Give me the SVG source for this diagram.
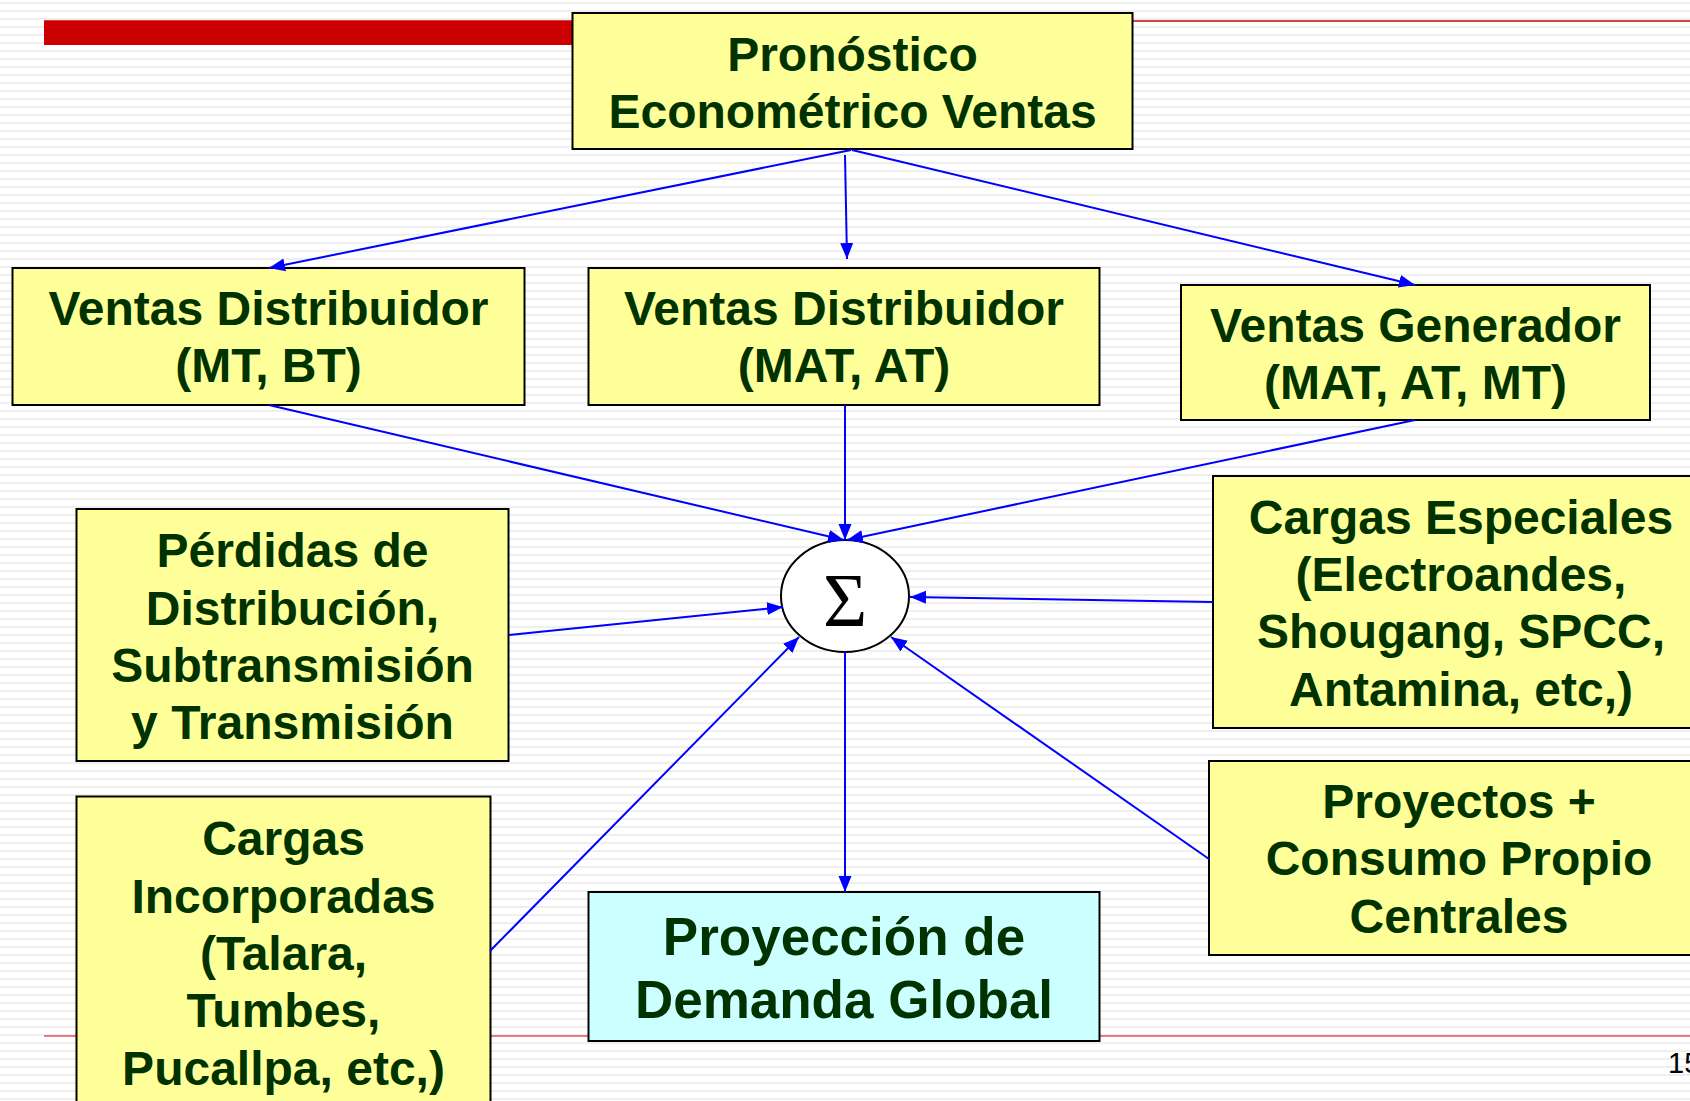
<svg xmlns="http://www.w3.org/2000/svg" width="1690" height="1101" viewBox="0 0 1690 1101">
<defs>
<pattern id="stripes" x="0" y="2" width="8" height="8" patternUnits="userSpaceOnUse">
<rect width="8" height="8" fill="#ffffff"/>
<rect y="0" width="8" height="2" fill="#efefef"/>
</pattern>
<marker id="ah" markerUnits="userSpaceOnUse" markerWidth="16" markerHeight="14" refX="16" refY="7" orient="auto">
<path d="M0,0.5 L16,7 L0,13.5 z" fill="#0000ff"/>
</marker>
<style>
.box{fill:#ffff99;stroke:#000;stroke-width:2}
.cyan{fill:#ccffff;stroke:#000;stroke-width:2}
.t{font-family:"Liberation Sans",Arial,sans-serif;font-weight:bold;font-size:48px;fill:#003300;text-anchor:middle}
.tb{font-size:53px}
.c{stroke:#0000ff;stroke-width:2;fill:none;marker-end:url(#ah)}
</style>
</defs>
<rect width="1690" height="1101" fill="url(#stripes)"/>
<g id="decor">
<line x1="44" y1="21" x2="1690" y2="21" stroke="#cc0000" stroke-width="1.5"/>
<rect x="44" y="21" width="530" height="24" fill="#cc0000"/>
<line x1="44" y1="1036" x2="1690" y2="1036" stroke="#dd0000" stroke-width="1.2"/>
<text x="1668" y="1073" font-family="Liberation Sans,Arial,sans-serif" font-size="29" fill="#000">15</text>
</g>
<g id="n-pronostico">
<rect class="box" x="572.5" y="13" width="560" height="136"/>
<text class="t" x="852.5" y="71">Pronóstico</text>
<text class="t" x="852.5" y="128">Econométrico Ventas</text>
</g>
<g id="n-vd-mtbt">
<rect class="box" x="12.5" y="268" width="512" height="137"/>
<text class="t" x="268.5" y="325">Ventas Distribuidor</text>
<text class="t" x="268.5" y="382">(MT, BT)</text>
</g>
<g id="n-vd-matat">
<rect class="box" x="588.5" y="268" width="511" height="137"/>
<text class="t" x="844" y="325">Ventas Distribuidor</text>
<text class="t" x="844" y="382">(MAT, AT)</text>
</g>
<g id="n-vg">
<rect class="box" x="1181" y="285" width="469" height="135"/>
<text class="t" x="1415.5" y="342">Ventas Generador</text>
<text class="t" x="1415.5" y="399">(MAT, AT, MT)</text>
</g>
<g id="n-perdidas">
<rect class="box" x="76.5" y="509" width="432" height="252"/>
<text class="t" x="292.5" y="567">Pérdidas de</text>
<text class="t" x="292.5" y="625">Distribución,</text>
<text class="t" x="292.5" y="682">Subtransmisión</text>
<text class="t" x="292.5" y="739">y Transmisión</text>
</g>
<g id="n-especiales">
<rect class="box" x="1213" y="476" width="496" height="252"/>
<text class="t" x="1461" y="534">Cargas Especiales</text>
<text class="t" x="1461" y="591">(Electroandes,</text>
<text class="t" x="1461" y="648">Shougang, SPCC,</text>
<text class="t" x="1461" y="706">Antamina, etc,)</text>
</g>
<g id="n-proyectos">
<rect class="box" x="1209" y="761" width="500" height="194"/>
<text class="t" x="1459" y="818">Proyectos +</text>
<text class="t" x="1459" y="875">Consumo Propio</text>
<text class="t" x="1459" y="933">Centrales</text>
</g>
<g id="n-incorporadas">
<rect class="box" x="76.5" y="796.5" width="414" height="320"/>
<text class="t" x="283.5" y="855">Cargas</text>
<text class="t" x="283.5" y="913">Incorporadas</text>
<text class="t" x="283.5" y="970">(Talara,</text>
<text class="t" x="283.5" y="1027">Tumbes,</text>
<text class="t" x="283.5" y="1085">Pucallpa, etc,)</text>
</g>
<g id="n-proyeccion">
<rect class="cyan" x="588.5" y="892" width="511" height="149"/>
<text class="t tb" x="844" y="955">Proyección de</text>
<text class="t tb" x="844" y="1018">Demanda Global</text>
</g>
<g id="n-sigma">
<ellipse cx="845" cy="596" rx="64" ry="56" fill="#ffffff" stroke="#000" stroke-width="2"/>
<text x="845" y="626" font-family="Liberation Serif,Times New Roman,serif" font-size="76" fill="#000" text-anchor="middle">Σ</text>
</g>
<g id="connectors">
<line class="c" x1="851" y1="150" x2="269" y2="268"/>
<line class="c" x1="845" y1="155" x2="847" y2="259"/>
<line class="c" x1="852" y1="150" x2="1415" y2="285"/>
<line class="c" x1="269" y1="405" x2="844" y2="540"/>
<line class="c" x1="845" y1="405" x2="845" y2="540"/>
<line class="c" x1="1415" y1="420" x2="847" y2="540"/>
<line class="c" x1="509" y1="635" x2="783" y2="607"/>
<line class="c" x1="1213" y1="602" x2="910" y2="597"/>
<line class="c" x1="490" y1="951" x2="799" y2="637"/>
<line class="c" x1="1209" y1="859" x2="891" y2="637"/>
<line class="c" x1="845" y1="652" x2="845" y2="892"/>
</g>
</svg>
